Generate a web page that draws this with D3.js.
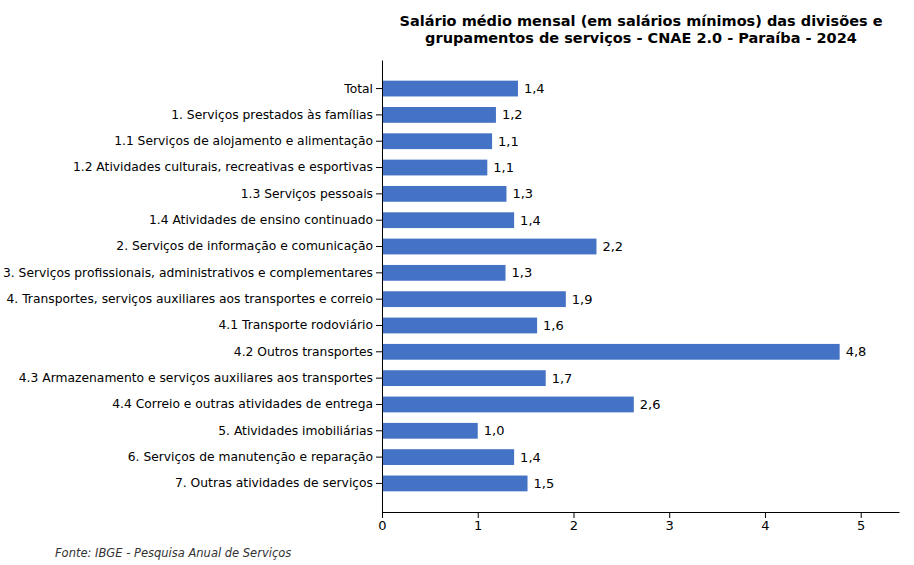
<!DOCTYPE html>
<html>
<head>
<meta charset="UTF-8">
<script src="https://cdn.jsdelivr.net/npm/d3@7"></script>
<style>
 body { margin:0; background:white; }
 svg text { font-family: "DejaVu Sans", sans-serif; }
</style>
</head>
<body>
<script>
var categorias = ["Total","1. Serviços prestados às famílias","1.1 Serviços de alojamento e alimentação",
 "1.2 Atividades culturais, recreativas e esportivas","1.3 Serviços pessoais","1.4 Atividades de ensino continuado",
 "2. Serviços de informação e comunicação","3. Serviços profissionais, administrativos e complementares",
 "4. Transportes, serviços auxiliares aos transportes e correio","4.1 Transporte rodoviário","4.2 Outros transportes",
 "4.3 Armazenamento e serviços auxiliares aos transportes","4.4 Correio e outras atividades de entrega",
 "5. Atividades imobiliárias","6. Serviços de manutenção e reparação","7. Outras atividades de serviços"];
var valores = [1.42,1.19,1.15,1.10,1.30,1.38,2.24,1.29,1.92,1.62,4.78,1.71,2.63,1.00,1.38,1.52];
var rotulos = ["1,4","1,2","1,1","1,1","1,3","1,4","2,2","1,3","1,9","1,6","4,8","1,7","2,6","1,0","1,4","1,5"];
var ticksX = [0,1,2,3,4,5];

var svg = d3.select('body').append('svg').attr('width',914).attr('height',565);
var x = d3.scaleLinear().domain([0,5.4]).range([382,899]);
var y = d3.scaleBand().domain(categorias).range([60,512]).paddingInner(0.4).paddingOuter(0.785);

svg.selectAll('.bar').data(valores).enter().append('rect')
  .attr('x',x(0)).attr('y',function(d,i){return y(categorias[i]);})
  .attr('width',function(d){return x(d)-x(0);}).attr('height',y.bandwidth())
  .attr('fill','#4472c4');

svg.selectAll('.lab').data(valores).enter().append('text')
  .attr('x',function(d){return x(d)+6;}).attr('y',function(d,i){return y(categorias[i])+y.bandwidth()/2;})
  .attr('dy','0.35em').attr('font-size',13).text(function(d,i){return rotulos[i];});

var gx = svg.append('g').attr('transform','translate(0,512)')
  .call(d3.axisBottom(x).tickValues(ticksX).tickFormat(d3.format('d')).tickSizeOuter(0));
gx.selectAll('text').attr('font-size',13).attr('fill','black');
var gy = svg.append('g').attr('transform','translate(382,0)')
  .call(d3.axisLeft(y).tickSizeOuter(0));
gy.selectAll('text').attr('font-size',12.3).attr('fill','black');
svg.selectAll('.domain').attr('stroke','black');

svg.append('text').attr('x',641).attr('y',26).attr('text-anchor','middle')
  .attr('font-size',14.5).attr('font-weight','bold').text('Salário médio mensal (em salários mínimos) das divisões e');
svg.append('text').attr('x',641).attr('y',43).attr('text-anchor','middle')
  .attr('font-size',14.5).attr('font-weight','bold').text('grupamentos de serviços - CNAE 2.0 - Paraíba - 2024');
svg.append('text').attr('x',55).attr('y',557).attr('font-size',11.5).attr('font-style','italic')
  .attr('fill','#333').text('Fonte: IBGE - Pesquisa Anual de Serviços');
</script>
</body>
</html>
